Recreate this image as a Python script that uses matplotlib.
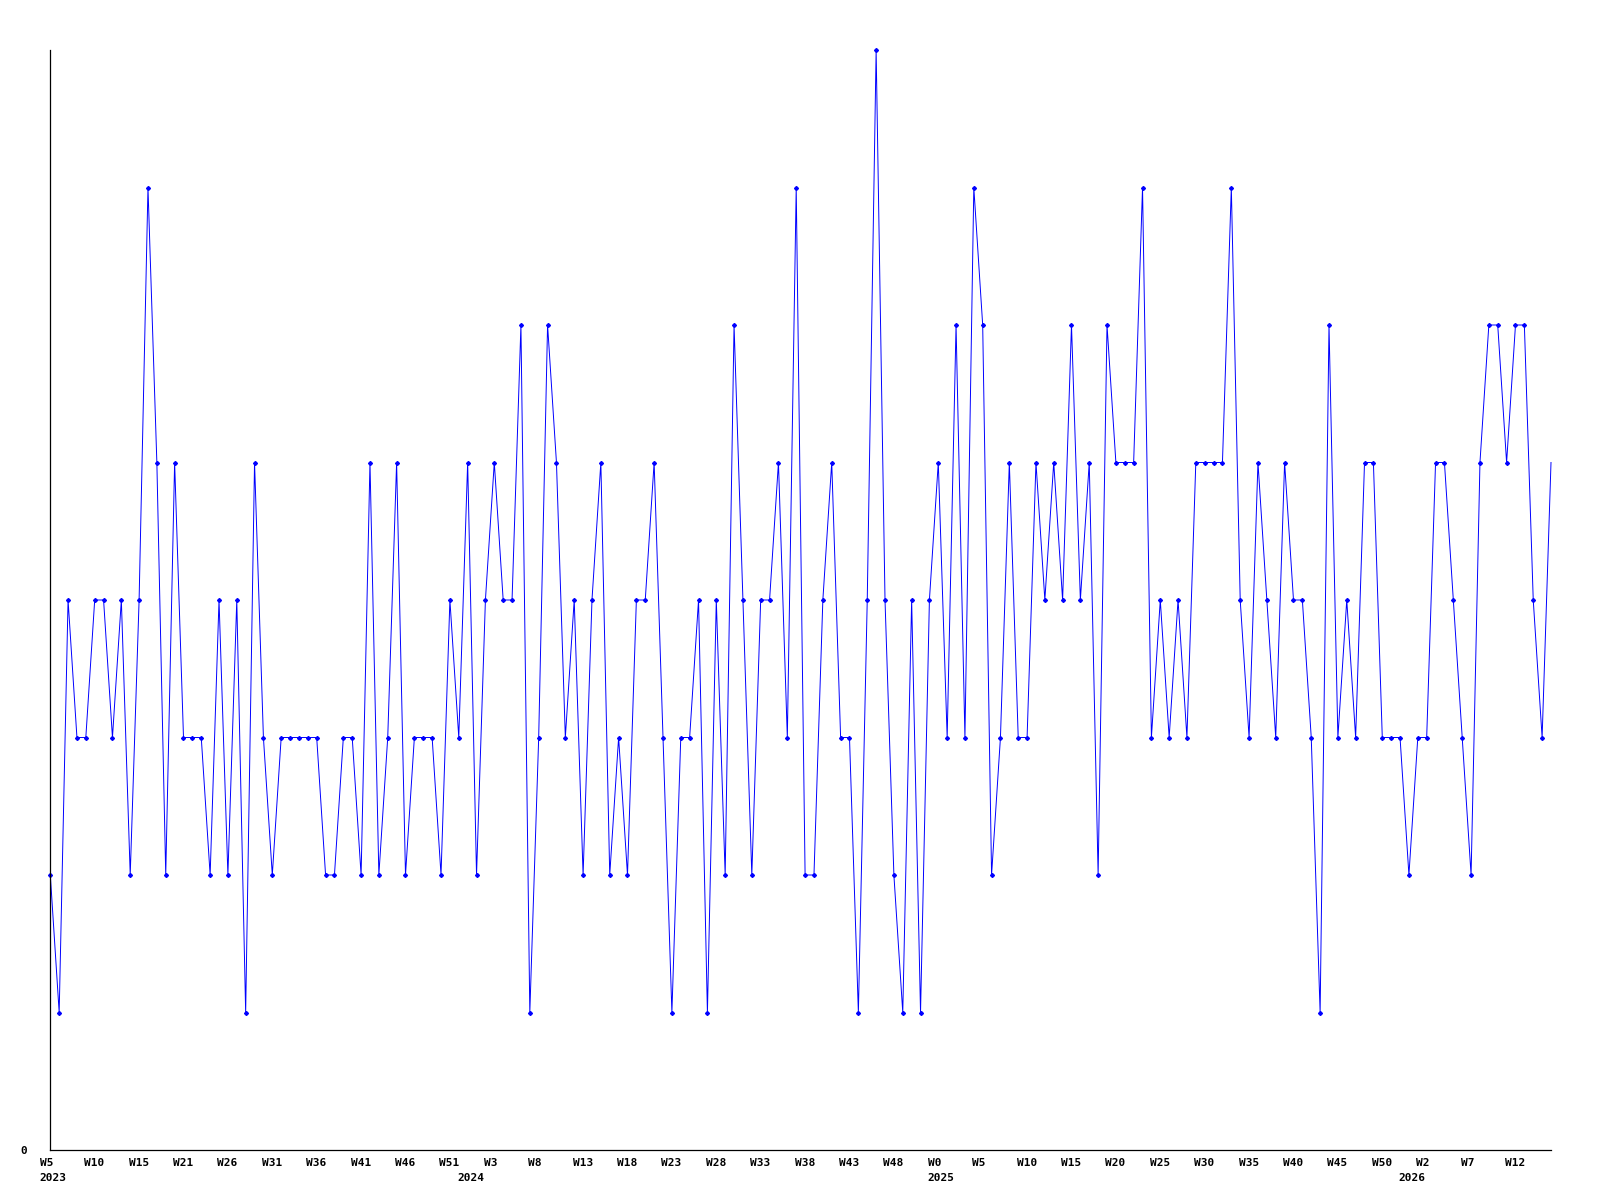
import matplotlib
matplotlib.use("Agg")
import matplotlib.pyplot as plt

# weekly counts, W5 2023 .. W15 2026
values = [2, 1, 4, 3, 3, 4, 4, 3, 4, 2, 4, 7, 5, 2, 5, 3, 3, 3, 2, 4,
          2, 4, 1, 5, 3, 2, 3, 3, 3, 3, 3, 2, 2, 3, 3, 2, 5, 2, 3, 5,
          2, 3, 3, 3, 2, 4, 3, 5, 2, 4, 5, 4, 4, 6, 1, 3, 6, 5, 3, 4,
          2, 4, 5, 2, 3, 2, 4, 4, 5, 3, 1, 3, 3, 4, 1, 4, 2, 6, 4, 2,
          4, 4, 5, 3, 7, 2, 2, 4, 5, 3, 3, 1, 4, 8, 4, 2, 1, 4, 1, 4,
          5, 3, 6, 3, 7, 6, 2, 3, 5, 3, 3, 5, 4, 5, 4, 6, 4, 5, 2, 6,
          5, 5, 5, 7, 3, 4, 3, 4, 3, 5, 5, 5, 5, 7, 4, 3, 5, 4, 3, 5,
          4, 4, 3, 1, 6, 3, 4, 3, 5, 5, 3, 3, 3, 2, 3, 3, 5, 5, 4, 3,
          2, 5, 6, 6, 5, 6, 6, 4, 3, 5]

week_labels = ["W5", "W10", "W15", "W21", "W26", "W31", "W36", "W41", "W46", "W51",
               "W3", "W8", "W13", "W18", "W23", "W28", "W33", "W38", "W43", "W48",
               "W0", "W5", "W10", "W15", "W20", "W25", "W30", "W35", "W40", "W45",
               "W50", "W2", "W7", "W12"]
years = ["2023", "2024", "2025", "2026"]
year_start = [0, 47, 100, 153]

x = list(range(len(values)))

fig = plt.figure(figsize=(16, 12), dpi=100)
ax = fig.add_axes([50.3 / 1600, 50 / 1200, 1500.7 / 1600, 1100 / 1200])

ax.plot(x, values, color="#0000ff", lw=0.7, marker="D", ms=2.0,
        markevery=list(range(len(values) - 1)), clip_on=False)

ax.set_xlim(0, len(values) - 1)
ax.set_ylim(0, 8)
for s in ["top", "right"]:
    ax.spines[s].set_visible(False)
for s in ["left", "bottom"]:
    ax.spines[s].set_linewidth(0.9)

font = dict(family="DejaVu Sans Mono", weight="bold", size=8)

ax.set_xticks([])
ax.set_yticks([0])
ax.set_yticklabels(["0"], fontdict=font)
ax.tick_params(axis="y", length=0, pad=17)

for i, lab in enumerate(week_labels):
    ax.annotate(lab, (i * 5, 0), xycoords=("data", "axes fraction"),
                xytext=(-7.6, -5.8), textcoords="offset points",
                ha="left", va="top", **font)
for pos, yr in zip(year_start, years):
    ax.annotate(yr, (pos, 0), xycoords=("data", "axes fraction"),
                xytext=(-7.6, -16.6), textcoords="offset points",
                ha="left", va="top", **font)

plt.savefig("out.png", dpi=100)
